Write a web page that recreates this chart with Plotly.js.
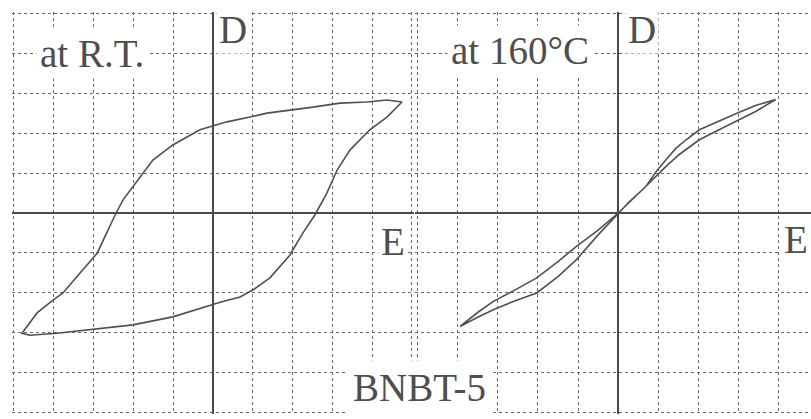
<!DOCTYPE html>
<html>
<head>
<meta charset="utf-8">
<script src="https://cdn.plot.ly/plotly-3.0.1.min.js"></script>
<style>html,body{margin:0;padding:0;background:#fff;}#chart{width:811px;height:419px;}</style>
</head>
<body>
<div id="chart"></div>
<script>
// Room temperature loop (E, D in grid divisions)
const rtE = [4.75, 4.37, 3.87, 3.19, 2.51, 2.01, 1.36, 0.93, 0.35, -0.33, -1.01, -1.51, -1.83, -2.01, -2.26, -2.46, -2.91, -3.34, -3.77, -4.02, -4.42, -4.80,
             -4.60, -3.92, -3.17, -2.59, -2.01, -1.01, -0.33, 0.18, 0.68, 1.01, 1.43, 1.93, 2.26, 2.56, 2.86, 3.12, 3.44, 3.94, 4.37, 4.75];
const rtD = [2.79, 2.84, 2.79, 2.76, 2.66, 2.59, 2.51, 2.41, 2.29, 2.09, 1.71, 1.33, 0.90, 0.65, 0.33, -0.05, -1.01, -1.51, -2.01, -2.19, -2.51, -3.02,
             -3.07, -3.02, -2.94, -2.86, -2.81, -2.61, -2.39, -2.24, -2.11, -1.93, -1.63, -1.06, -0.50, -0.05, 0.50, 1.08, 1.58, 2.09, 2.41, 2.79];
// 160 °C loop
const htE = [3.92, 3.42, 2.97, 2.51, 2.02, 1.69, 1.44, 1.19, 0.98, 0.69, 0.36, 0, -0.5, -1.04, -1.5, -2.03, -2.6, -3.11, -3.5, -3.94,
             -3.5, -3.11, -2.6, -2.03, -1.5, -1.04, -0.5, 0, 0.28, 0.61, 0.94, 1.19, 1.52, 2.02, 2.51, 3.01, 3.42, 3.92];
const htD = [2.85, 2.70, 2.51, 2.30, 2.09, 1.84, 1.63, 1.34, 1.09, 0.67, 0.35, 0, -0.43, -0.84, -1.22, -1.63, -1.95, -2.22, -2.50, -2.85,
             -2.62, -2.43, -2.22, -2.01, -1.60, -1.17, -0.55, 0, 0.29, 0.59, 0.92, 1.17, 1.47, 1.84, 2.09, 2.34, 2.55, 2.85];
const labels = {rt: 'at R.T.', ht: 'at 160°C', d: 'D', e: 'E', sample: 'BNBT-5'};

const lineStyle = {color: '#505050', width: 1.6};
const traces = [
  {x: rtE, y: rtD, xaxis: 'x', yaxis: 'y', mode: 'lines', line: lineStyle, hoverinfo: 'skip'},
  {x: htE, y: htD, xaxis: 'x2', yaxis: 'y', mode: 'lines', line: lineStyle, hoverinfo: 'skip'}
];
const axBase = {
  showticklabels: false, ticks: '', showline: false, dtick: 1, tick0: 0,
  showgrid: true, gridcolor: '#6a6a6a', gridwidth: 1, griddash: 'dot',
  zeroline: true, zerolinecolor: '#4a4a4a', zerolinewidth: 2, fixedrange: true
};
const font = {family: '"Liberation Serif", "Times New Roman", serif', size: 39, color: '#4e4e4e'};
const ann = (text, x, y, xref, extra) => Object.assign({
  text: text, x: x, y: y, xref: xref, yref: 'y', showarrow: false,
  font: font, bgcolor: '#ffffff', borderpad: 3, xanchor: 'center', yanchor: 'middle'
}, extra || {});
const layout = {
  width: 811, height: 419,
  margin: {l: 12, r: 0, t: 12, b: 5},
  paper_bgcolor: '#ffffff', plot_bgcolor: '#ffffff',
  showlegend: false,
  xaxis: Object.assign({}, axBase, {domain: [0, 0.5031], range: [-5.05, 5.05]}),
  xaxis2: Object.assign({}, axBase, {domain: [0.5044, 1], range: [-5.06, 4.8], anchor: 'y'}),
  yaxis: Object.assign({}, axBase, {range: [-5.05, 5.05]}),
  annotations: [
    ann(labels.rt, -3.04, 4.0, 'x'),
    ann(labels.ht, -2.45, 4.08, 'x2'),
    ann(labels.d, 0.5, 4.6, 'x', {borderpad: 2}),
    ann(labels.d, 0.6, 4.6, 'x2', {borderpad: 2}),
    ann(labels.e, 4.52, -0.72, 'x', {borderpad: 2}),
    ann(labels.e, 4.42, -0.66, 'x2', {borderpad: 2}),
    {text: labels.sample, x: 0.51, y: 0.065, xref: 'paper', yref: 'paper', showarrow: false,
     font: font, bgcolor: '#ffffff', borderpad: 5, xanchor: 'center', yanchor: 'middle'}
  ]
};
Plotly.newPlot('chart', traces, layout, {staticPlot: true, displayModeBar: false});
</script>
</body>
</html>
